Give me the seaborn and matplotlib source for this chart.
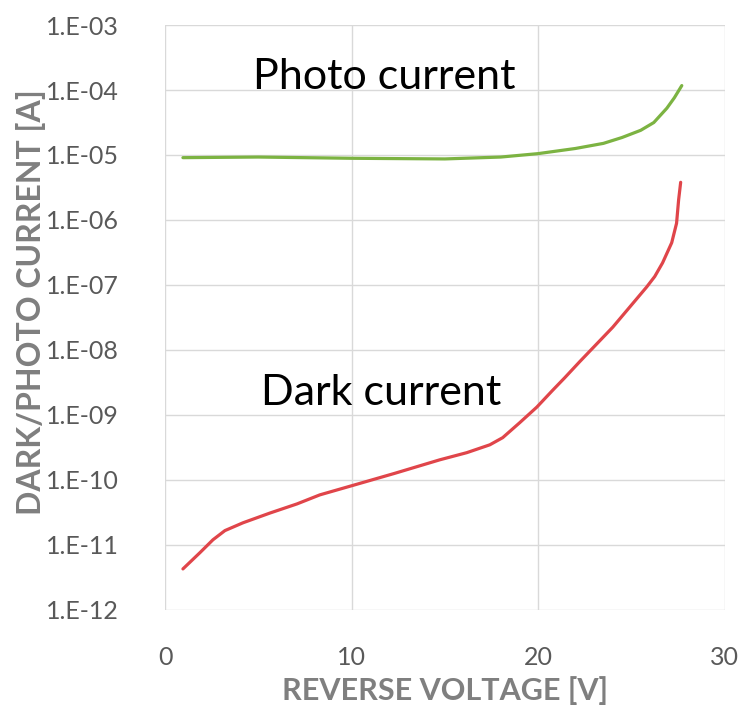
import matplotlib
matplotlib.use("Agg")
import matplotlib.pyplot as plt
import seaborn as sns
import pandas as pd

# ---- data ----
dark_v = [0.96, 1.87, 2.57, 3.21, 4.18, 5.62, 7.07, 8.30, 10.0, 12.3, 14.73,
          16.18, 17.41, 18.10, 19.01, 19.93, 20.78, 21.42, 22.23, 24.0, 25.82,
          26.25, 26.67, 27.16, 27.42, 27.53, 27.64]
dark_i = [4.27e-12, 7.59e-12, 1.20e-11, 1.66e-11, 2.19e-11, 3.09e-11, 4.27e-11,
          5.89e-11, 8.13e-11, 1.26e-10, 2.04e-10, 2.63e-10, 3.47e-10, 4.47e-10,
          7.59e-10, 1.32e-09, 2.40e-09, 3.72e-09, 6.61e-09, 2.24e-08, 9.33e-08,
          1.35e-07, 2.19e-07, 4.47e-07, 8.91e-07, 2.04e-06, 3.80e-06]
photo_v = [0.96, 5.0, 10.0, 15.0, 18.0, 20.0, 22.0, 23.5, 24.5, 25.5, 26.2,
           26.9, 27.3, 27.7]
photo_i = [9.1e-06, 9.3e-06, 8.9e-06, 8.7e-06, 9.3e-06, 1.05e-05, 1.26e-05,
           1.51e-05, 1.86e-05, 2.40e-05, 3.16e-05, 5.25e-05, 7.59e-05, 1.17e-04]
x_ticks = [0, 10, 20, 30]
y_ticks = [1e-12, 1e-11, 1e-10, 1e-09, 1e-08, 1e-07, 1e-06, 1e-05, 1e-04, 1e-03]
y_tick_labels = ["1.E-12", "1.E-11", "1.E-10", "1.E-09", "1.E-08",
                 "1.E-07", "1.E-06", "1.E-05", "1.E-04", "1.E-03"]
x_label = "REVERSE VOLTAGE [V]"
y_label = "DARK/PHOTO CURRENT [A]"
photo_text = "Photo current"
dark_text = "Dark current"

sns.set_style("white")
plt.rcParams["font.family"] = ["Lato", "DejaVu Sans"]

fig = plt.figure(figsize=(7.41, 7.15), dpi=100)
ax = fig.add_axes([0.2227, 0.147, 0.7553, 0.818])

df_dark = pd.DataFrame({"v": dark_v, "i": dark_i})
df_photo = pd.DataFrame({"v": photo_v, "i": photo_i})
sns.lineplot(data=df_photo, x="v", y="i", ax=ax, color="#7cb342", linewidth=2.3,
             sort=False, solid_joinstyle="round", solid_capstyle="round")
sns.lineplot(data=df_dark, x="v", y="i", ax=ax, color="#e0454a", linewidth=2.3,
             sort=False, solid_joinstyle="round", solid_capstyle="round")

ax.set_yscale("log")
ax.set_xlim(0, 30)
ax.set_ylim(1e-12, 1e-3)
ax.set_xticks(x_ticks)
ax.set_xticklabels([str(t) for t in x_ticks])
ax.set_yticks(y_ticks)
ax.set_yticklabels(y_tick_labels)
ax.minorticks_off()
ax.tick_params(axis="both", length=0, labelsize=18, colors="#595959")
ax.tick_params(axis="x", pad=26)
ax.tick_params(axis="y", pad=33)

ax.grid(True, color="#d9d9d9", linewidth=1.0)
for s in ax.spines.values():
    s.set_visible(False)
ax.set_axisbelow(True)

ax.set_xlabel(x_label, fontsize=22, fontweight="bold", color="#7f7f7f")
ax.set_ylabel(y_label, fontsize=23, fontweight="bold", color="#7f7f7f")
ax.xaxis.set_label_coords(0.5, -0.113)
ax.yaxis.set_label_coords(-0.213, 0.527)

ax.text(11.76, 1.6e-4, photo_text, fontsize=31, ha="center", va="center", color="black")
ax.text(11.57, 2.2e-9, dark_text, fontsize=31, ha="center", va="center", color="black")

fig.savefig("out.png", dpi=100)
